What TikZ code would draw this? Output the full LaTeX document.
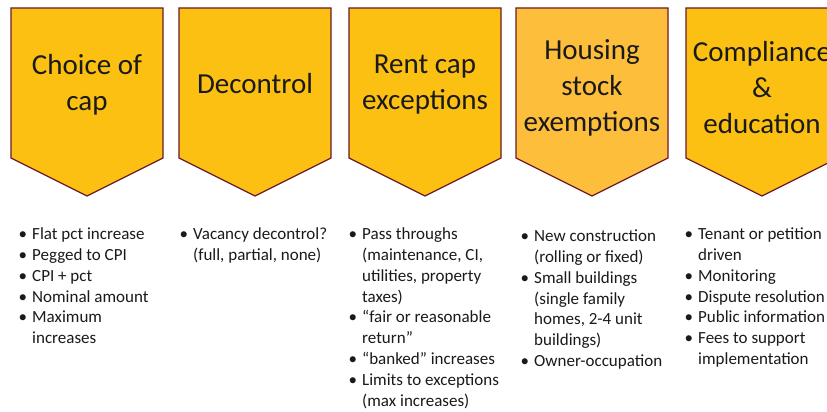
\documentclass[tikz,border=0pt]{standalone}
\usepackage{fontspec}
\setmainfont{Carlito}
\definecolor{gold}{HTML}{FBC012}
\definecolor{goldlt}{HTML}{FDBE3C}
\definecolor{maroon}{HTML}{6E1A2A}
\definecolor{txt}{HTML}{1A1A1A}
\newcommand\bul{\makebox[0pt][r]{\textbullet\hspace{5pt}}}
\tikzset{
  chev/.style={draw=maroon, line width=1.2pt, line join=miter},
  ttl/.style={font=\fontsize{29}{36}\selectfont, align=center, text=txt, inner sep=0pt},
  lst/.style={font=\fontsize{17}{20.8}\selectfont, align=left, anchor=north west, inner sep=0pt, text=txt}
}
% #1 left x, #2 fill colour
\newcommand\chevron[2]{%
  \fill[#2] (#1,8) -- (#1+152,8) -- (#1+152,158) -- (#1+76,196) -- (#1,158) -- cycle;
  \draw[chev] (#1,8) -- (#1+152,8) -- (#1+152,158) -- (#1+76,196) -- (#1,158) -- cycle;}
\begin{document}
\begin{tikzpicture}[x=1pt,y=-1pt]
\clip (0,0) rectangle (827,412);
\fill[white] (0,0) rectangle (827,412);
\chevron{11}{gold}
\chevron{179}{gold}
\chevron{349}{gold}
\chevron{516}{goldlt}
\chevron{686}{gold}
\node[ttl] (t1) at (87,85) {Choice of\\cap};
\node[ttl] (t2) at (255,84) {Decontrol};
\node[ttl] (t3) at (425,85) {Rent cap\\exceptions};
\node[ttl] (t4) at (592,88) {Housing\\stock\\exemptions};
\node[ttl] (t5) at (762,88) {Compliance\\\&\\education};
\node[lst] (l1) at (32,225) {\strut\bul Flat pct increase\\\strut\bul Pegged to CPI\\\strut\bul CPI + pct\\\strut\bul Nominal amount\\\strut\bul Maximum\\\strut increases};
\node[lst] (l2) at (193,225) {\strut\bul Vacancy decontrol?\\\strut (full, partial, none)};
\node[lst] (l3) at (362,225) {\strut\bul Pass throughs\\\strut (maintenance, CI,\\\strut utilities, property\\\strut taxes)\\\strut\bul “fair or reasonable\\\strut return”\\\strut\bul “banked” increases\\\strut\bul Limits to exceptions\\\strut (max increases)};
\node[lst] (l4) at (534,227) {\strut\bul New construction\\\strut (rolling or fixed)\\\strut\bul Small buildings\\\strut (single family\\\strut homes, 2-4 unit\\\strut buildings)\\\strut\bul Owner-occupation};
\node[lst] (l5) at (698,225) {\strut\bul Tenant or petition\\\strut driven\\\strut\bul Monitoring\\\strut\bul Dispute resolution\\\strut\bul Public information\\\strut\bul Fees to support\\\strut implementation};
\end{tikzpicture}
\end{document}
